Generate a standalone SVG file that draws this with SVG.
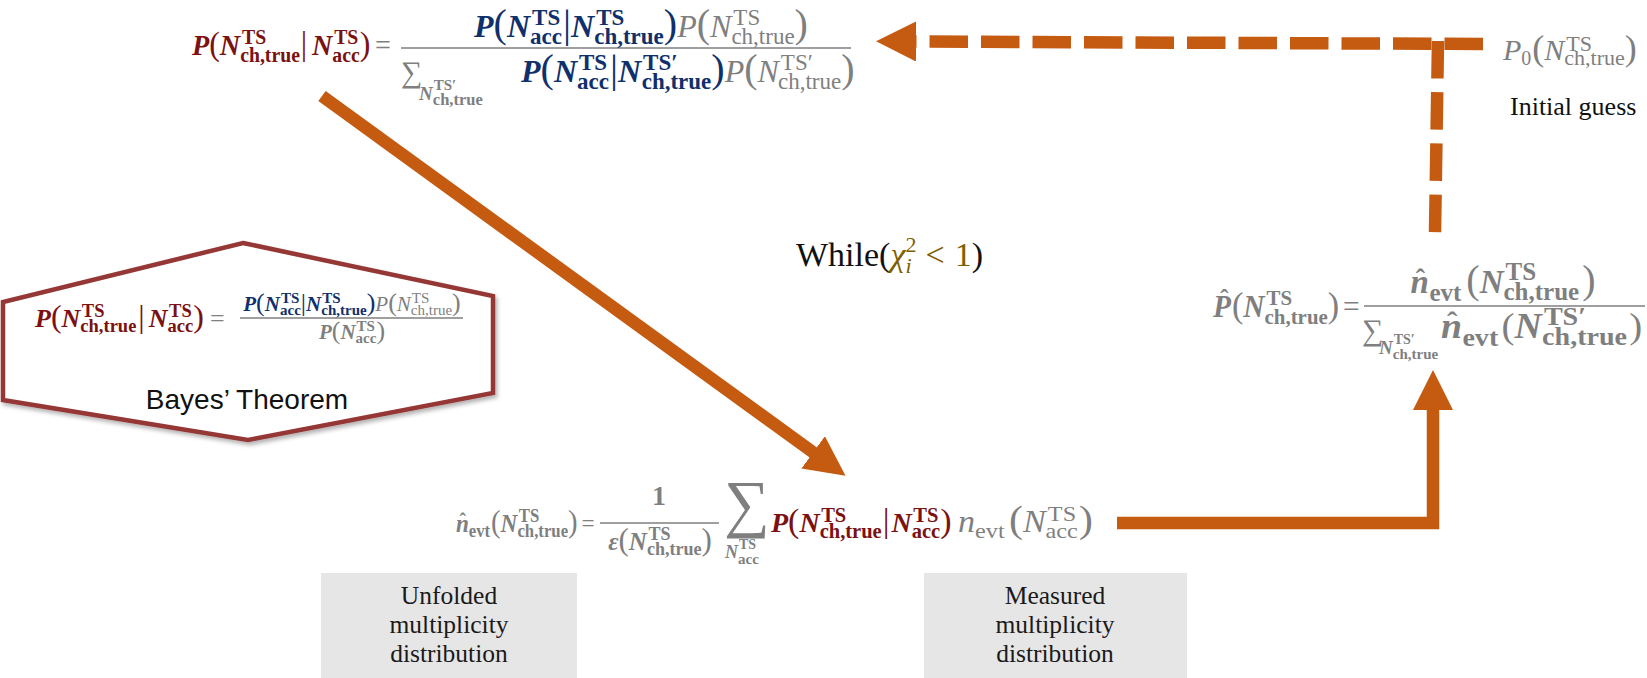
<svg xmlns="http://www.w3.org/2000/svg" width="1647" height="678" viewBox="0 0 1647 678">
<style>
.m{font-family:"Liberation Serif","DejaVu Serif",serif}
.bi{font-weight:bold;font-style:italic}
.b{font-weight:bold}
.i{font-style:italic}
.r{fill:#7B1111}
.nv{fill:#10306C}
.g{fill:#7F7F7F}
.ol{fill:#7F6000}
.bar{stroke:#7F7F7F;stroke-width:1.4}
.conn{fill:none;stroke:#C55A11;stroke-width:12.5}
.box{fill:#E7E6E6}
.lbl{font-family:"Liberation Serif","DejaVu Serif",serif;font-size:25.5px;fill:#1a1a1a;text-anchor:middle}
</style>
<defs>
<marker id="ah" markerUnits="userSpaceOnUse" markerWidth="40" markerHeight="40" viewBox="0 0 38 38" refX="1" refY="19" orient="auto"><path d="M0,0 L38,19 L0,38 Z" fill="#C55A11"/></marker>
<filter id="sh" x="-10%" y="-10%" width="120%" height="130%"><feDropShadow dx="2" dy="3" stdDeviation="2" flood-color="#000" flood-opacity="0.3"/></filter>
</defs>
<rect width="1647" height="678" fill="#fff"/>

<g id="connectors">
<path class="conn" d="M322,96 L814,453" marker-end="url(#ah)"/>
<path class="conn" d="M1117,523 H1433 V409" marker-end="url(#ah)"/>
<path class="conn" d="M1483,44 L915,41.5" stroke-width="12" stroke-dasharray="38.5 13" marker-end="url(#ah)"/>
<path class="conn" d="M1438,41 L1435,233" stroke-width="12" stroke-dasharray="37.5 13.7"/>
</g>

<g id="bayes-iteration">
<g transform="translate(192,55) scale(0.94,1)">
<text class="m r" x="0" y="0" font-size="30"><tspan class="bi">P</tspan><tspan font-size="34">(</tspan><tspan class="bi">N</tspan><tspan class="b" font-size="21" dx="2" dy="-11">TS</tspan><tspan class="b" font-size="21" dx="-27.7" dy="18">ch,true</tspan><tspan font-size="34" dx="1" dy="-7">|</tspan><tspan class="bi" dx="5">N</tspan><tspan class="b" font-size="21" dx="2" dy="-11">TS</tspan><tspan class="b" font-size="21" dx="-27.7" dy="18">acc</tspan><tspan font-size="34" dy="-7">)</tspan><tspan class="g" dx="5">=</tspan></text>
</g>
<line class="bar" x1="401" y1="48" x2="851" y2="48"/>
<text class="m" text-anchor="middle" x="641" y="37" font-size="32"><tspan class="nv bi">P</tspan><tspan class="nv" font-size="40">(</tspan><tspan class="nv bi">N</tspan><tspan class="nv b" font-size="23" dx="2" dy="-12">TS</tspan><tspan class="nv b" font-size="23" dx="-30.1" dy="19">acc</tspan><tspan class="nv" font-size="40" dx="1" dy="-7">|</tspan><tspan class="nv bi">N</tspan><tspan class="nv b" font-size="23" dx="2" dy="-12">TS</tspan><tspan class="nv b" font-size="23" dx="-30.1" dy="19">ch,true</tspan><tspan class="nv" font-size="40" dy="-7">)</tspan><tspan class="g i">P</tspan><tspan class="g" font-size="40">(</tspan><tspan class="g i">N</tspan><tspan class="g" font-size="23" dx="2" dy="-12">TS</tspan><tspan class="g" font-size="23" dx="-28.8" dy="19">ch,true</tspan><tspan class="g" font-size="40" dy="-7">)</tspan></text>
<text class="m g" x="401" y="82" font-size="30">∑</text>
<text class="m g b" x="419" y="100" font-size="19"><tspan class="bi">N</tspan><tspan font-size="15" dx="1" dy="-10">TS′</tspan><tspan font-size="16.5" dx="-23.5" dy="15">ch,true</tspan></text>
<text class="m" x="521" y="82" font-size="32"><tspan class="nv bi">P</tspan><tspan class="nv" font-size="40">(</tspan><tspan class="nv bi">N</tspan><tspan class="nv b" font-size="23" dx="2" dy="-12">TS</tspan><tspan class="nv b" font-size="23" dx="-30.1" dy="19">acc</tspan><tspan class="nv" font-size="40" dx="1" dy="-7">|</tspan><tspan class="nv bi">N</tspan><tspan class="nv b" font-size="23" dx="2" dy="-12">TS′</tspan><tspan class="nv b" font-size="23" dx="-36" dy="19">ch,true</tspan><tspan class="nv" font-size="40" dy="-7">)</tspan><tspan class="g i">P</tspan><tspan class="g" font-size="40">(</tspan><tspan class="g i">N</tspan><tspan class="g" font-size="23" dx="2" dy="-12">TS′</tspan><tspan class="g" font-size="23" dx="-34.8" dy="19">ch,true</tspan><tspan class="g" font-size="40" dy="-7">)</tspan></text>
</g>

<g id="initial-guess">
<text class="m g" x="1503" y="60" font-size="30"><tspan class="i">P</tspan><tspan font-size="20" dy="5">0</tspan><tspan font-size="36" dx="1" dy="-5">(</tspan><tspan class="i">N</tspan><tspan font-size="22" dx="2" dy="-9">TS</tspan><tspan font-size="22" dx="-27.7" dy="14">ch,true</tspan><tspan font-size="36" dy="-5">)</tspan></text>
<text class="m" x="1510" y="115" font-size="26" fill="#111">Initial guess</text>
</g>

<g id="while-condition">
<text class="m" x="796" y="266" font-size="34" fill="#111">While(<tspan class="ol i">χ</tspan><tspan class="ol" font-size="22" dy="-14">2</tspan><tspan class="ol i" font-size="22" dx="-11" dy="21">i</tspan><tspan class="ol" dx="14" dy="-7">&lt;</tspan><tspan class="ol" dx="10">1</tspan>)</text>
</g>

<g id="bayes-theorem">
<polygon points="243,243 493,296 493,393 248,440 3,400 3,302" fill="#fff" stroke="#953735" stroke-width="4.5" filter="url(#sh)"/>
<text class="m r" x="35" y="327" font-size="26"><tspan class="bi">P</tspan><tspan font-size="32">(</tspan><tspan class="bi">N</tspan><tspan class="b" font-size="18.5" dx="1.5" dy="-10">TS</tspan><tspan class="b" font-size="18.5" dx="-24.1" dy="15">ch,true</tspan><tspan font-size="32" dx="2" dy="-5">|</tspan><tspan class="bi" dx="4">N</tspan><tspan class="b" font-size="18.5" dx="1.5" dy="-10">TS</tspan><tspan class="b" font-size="18.5" dx="-24.1" dy="15">acc</tspan><tspan font-size="32" dy="-5">)</tspan><tspan class="g" dx="6">=</tspan></text>
<line class="bar" x1="240" y1="318" x2="463" y2="318" stroke-width="1.1"/>
<text class="m" text-anchor="middle" x="352" y="311" font-size="21"><tspan class="nv bi">P</tspan><tspan class="nv" font-size="26">(</tspan><tspan class="nv bi">N</tspan><tspan class="nv b" font-size="15" dx="1" dy="-8">TS</tspan><tspan class="nv b" font-size="15" dx="-19.3" dy="12">acc</tspan><tspan class="nv" font-size="26" dy="-4">|</tspan><tspan class="nv bi">N</tspan><tspan class="nv b" font-size="15" dx="1" dy="-8">TS</tspan><tspan class="nv b" font-size="15" dx="-19.3" dy="12">ch,true</tspan><tspan class="nv" font-size="26" dy="-4">)</tspan><tspan class="g i">P</tspan><tspan class="g" font-size="26">(</tspan><tspan class="g i">N</tspan><tspan class="g" font-size="15" dx="1" dy="-8">TS</tspan><tspan class="g" font-size="15" dx="-18.5" dy="12">ch,true</tspan><tspan class="g" font-size="26" dy="-4">)</tspan></text>
<text class="m g" text-anchor="middle" x="352" y="339" font-size="21"><tspan class="bi">P</tspan><tspan font-size="26">(</tspan><tspan class="bi">N</tspan><tspan class="b" font-size="15" dx="1" dy="-8">TS</tspan><tspan class="b" font-size="15" dx="-19.3" dy="12">acc</tspan><tspan font-size="26" dy="-4">)</tspan></text>
<text x="247" y="409" font-family="Liberation Sans, Arial, sans-serif" font-size="28" text-anchor="middle" fill="#111">Bayes’ Theorem</text>
</g>

<g id="prior-update">
<g transform="translate(1213,317) scale(0.95,1)">
<text class="m g b" x="0" y="0" font-size="31"><tspan class="bi">P</tspan><tspan font-size="26" dx="-11.3" dy="-10">ˆ</tspan><tspan font-size="36" font-weight="normal" dx="3.6" dy="10">(</tspan><tspan class="bi">N</tspan><tspan font-size="22" dx="2" dy="-12">TS</tspan><tspan font-size="22" dx="-28.9" dy="19">ch,true</tspan><tspan font-size="36" font-weight="normal" dy="-7">)</tspan><tspan font-weight="normal" dx="4">=</tspan></text>
</g>
<line class="bar" x1="1364" y1="306" x2="1645" y2="306"/>
<text class="m g b" text-anchor="middle" x="1503" y="293" font-size="33"><tspan class="bi">n</tspan><tspan font-size="28" dx="-13" dy="-5">ˆ</tspan><tspan font-size="25" dx="4.2" dy="13">evt</tspan><tspan font-size="40" font-weight="normal" dx="5" dy="-8">(</tspan><tspan class="bi">N</tspan><tspan font-size="25" dx="2" dy="-13">TS</tspan><tspan font-size="25" dx="-32.6" dy="20">ch,true</tspan><tspan font-size="40" font-weight="normal" dx="3" dy="-7">)</tspan></text>
<text class="m g" x="1362" y="340" font-size="30">∑</text>
<text class="m g b" x="1379" y="354" font-size="19"><tspan class="bi">N</tspan><tspan font-size="14" dx="1" dy="-10">TS′</tspan><tspan font-size="15" dx="-22" dy="15">ch,true</tspan></text>
<g transform="translate(1441,338) scale(1.08,1)">
<text class="m g b" x="0" y="0" font-size="35"><tspan class="bi">n</tspan><tspan font-size="29" dx="-14" dy="-6">ˆ</tspan><tspan font-size="26" dx="4.7" dy="14">evt</tspan><tspan font-size="36" font-weight="normal" dx="3" dy="-8">(</tspan><tspan class="bi">N</tspan><tspan font-size="26" dx="2" dy="-13">TS′</tspan><tspan font-size="26" dx="-40.8" dy="20">ch,true</tspan><tspan font-size="36" font-weight="normal" dx="2" dy="-7">)</tspan></text>
</g>
</g>

<g id="unfolding">
<g transform="translate(456,532) scale(0.93,1)">
<text class="m g b" x="0" y="0" font-size="25"><tspan class="bi">n</tspan><tspan font-size="21" dx="-10" dy="-4">ˆ</tspan><tspan font-size="18" dx="2.8" dy="9">evt</tspan><tspan font-size="31" font-weight="normal" dx="1" dy="-5">(</tspan><tspan class="bi">N</tspan><tspan font-size="18" dx="1.5" dy="-10">TS</tspan><tspan font-size="18" dx="-23.5" dy="15">ch,true</tspan><tspan font-size="31" font-weight="normal" dy="-5">)</tspan><tspan font-weight="normal" dx="4">=</tspan></text>
</g>
<text class="m g b" x="659" y="505" font-size="28" text-anchor="middle">1</text>
<line class="bar" x1="600" y1="523" x2="719" y2="523"/>
<text class="m g b" text-anchor="middle" x="660" y="550" font-size="25"><tspan class="bi">ε</tspan><tspan font-size="31" font-weight="normal">(</tspan><tspan class="bi">N</tspan><tspan font-size="18" dx="1.5" dy="-10">TS</tspan><tspan font-size="18" dx="-23.5" dy="15">ch,true</tspan><tspan font-size="31" font-weight="normal" dy="-5">)</tspan></text>
<text class="m g" x="724" y="525" font-size="64">∑</text>
<text class="m g b" x="725" y="558" font-size="18"><tspan class="bi">N</tspan><tspan font-size="14" dx="1" dy="-9">TS</tspan><tspan font-size="15" dx="-18.1" dy="15">acc</tspan></text>
<text class="m r" x="771" y="532" font-size="28"><tspan class="bi">P</tspan><tspan font-size="34">(</tspan><tspan class="bi">N</tspan><tspan class="b" font-size="20.5" dx="1.5" dy="-10">TS</tspan><tspan class="b" font-size="20.5" dx="-26.6" dy="16">ch,true</tspan><tspan font-size="34" dx="1" dy="-6">|</tspan><tspan class="bi" dx="2">N</tspan><tspan class="b" font-size="20.5" dx="1.5" dy="-10">TS</tspan><tspan class="b" font-size="20.5" dx="-26.6" dy="16">acc</tspan><tspan font-size="34" dy="-6">)</tspan></text>
<g transform="translate(958,532) scale(1.1,1)">
<text class="m g" x="0" y="0" font-size="31"><tspan class="i">n</tspan><tspan font-size="22" dy="6">evt</tspan><tspan font-size="38" dx="4" dy="-6">(</tspan><tspan class="i">N</tspan><tspan font-size="22" dx="2" dy="-11">TS</tspan><tspan font-size="22" dx="-27.7" dy="17">acc</tspan><tspan font-size="38" dx="1" dy="-6">)</tspan></text>
</g>
</g>

<g id="box-unfolded">
<rect class="box" x="321" y="573" width="256" height="105"/>
<text class="lbl" x="449" y="604">Unfolded</text>
<text class="lbl" x="449" y="633">multiplicity</text>
<text class="lbl" x="449" y="662">distribution</text>
</g>

<g id="box-measured">
<rect class="box" x="924" y="573" width="263" height="105"/>
<text class="lbl" x="1055" y="604">Measured</text>
<text class="lbl" x="1055" y="633">multiplicity</text>
<text class="lbl" x="1055" y="662">distribution</text>
</g>
</svg>
